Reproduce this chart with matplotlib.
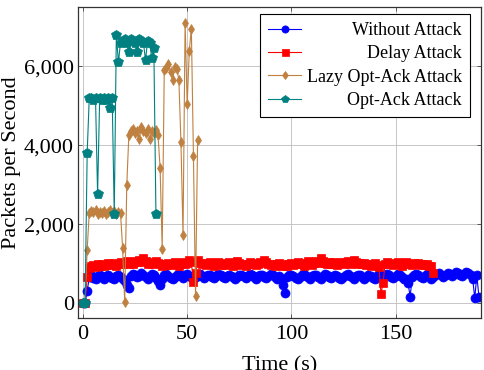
import numpy as np
import matplotlib
matplotlib.use("Agg")
import matplotlib.pyplot as plt
import matplotlib.ticker as ticker
from matplotlib.transforms import Bbox

plt.rcParams['font.family'] = ['Liberation Serif', 'DejaVu Serif']

# packets per second, one sample per second
without_attack = [
    0, 0, 300, 650, 700, 640, 610, 690, 720, 660,
    620, 680, 710, 650, 630, 600, 680, 720, 660, 610,
    560, 460, 370, 690, 740, 700, 650, 690, 750, 710,
    660, 620, 690, 730, 700, 640, 560, 460, 620, 700,
    730, 690, 640, 600, 660, 710, 730, 680, 640, 700,
    740, 690, 650, 610, 660, 700, 730, 680, 640, 690,
    720, 700, 660, 630, 690, 740, 710, 660, 630, 680,
    720, 690, 650, 610, 660, 700, 720, 680, 640, 690,
    730, 700, 650, 620, 680, 720, 700, 660, 630, 690,
    740, 700, 650, 620, 680, 600, 450, 250, 650, 700,
    720, 680, 640, 610, 670, 710, 730, 690, 650, 620,
    680, 720, 700, 650, 620, 690, 730, 700, 660, 630,
    690, 720, 680, 640, 610, 670, 710, 730, 690, 650,
    620, 680, 720, 700, 650, 610, 670, 710, 690, 640,
    610, 680, 730, 700, 660, 690, 740, 720, 670, 640,
    690, 730, 700, 650, 620, 600, 500, 160, 660, 710,
    740, 700, 660, 630, 690, 730, 700, 600, 650, 700,
    730, 760, 710, 670, 720, 760, 730, 690, 740, 790,
    760, 720, 680, 730, 780, 750, 700, 620, 120, 700,
    160,
]

delay_attack = [
    0, 0, 670, 880, 950, 960, 920, 980, 950, 1000,
    930, 970, 1010, 960, 990, 1020, 950, 1000, 1040, 980,
    1010, 1060, 1000, 1040, 990, 1070, 1030, 1080, 1050, 1130,
    1060, 1000, 1040, 990, 1020, 1070, 1010, 980, 950, 1000,
    970, 1010, 960, 1000, 1040, 990, 950, 1000, 1030, 980,
    1010, 1090, 1040, 520, 750, 1100, 1020, 980, 1010, 960,
    1000, 1040, 990, 950, 1000, 1030, 970, 1010, 960, 1000,
    1040, 980, 950, 1000, 1060, 1010, 970, 1000, 950, 990,
    1030, 980, 1010, 960, 1000, 1050, 1010, 1100, 1040, 990,
    960, 1000, 950, 980, 1020, 960, 940, 990, 950, 980,
    1010, 960, 990, 1030, 980, 1000, 950, 1010, 1060, 1000,
    970, 1020, 1060, 1010, 1150, 1070, 1010, 980, 1030, 990,
    1040, 1000, 960, 1010, 1050, 990, 1030, 1060, 1000, 1040,
    1100, 1030, 990, 1020, 980, 1010, 960, 1000, 940, 980,
    1010, 960, 920, 230, 510, 990, 1030, 980, 1010, 960,
    1000, 1040, 990, 950, 1010, 1030, 980, 1000, 960, 1010,
    990, 1020, 970, 1000, 960, 990, 940, 950, 750,
]

lazy_optack = [
    0, 0, 1350, 2280, 2330, 2300, 2350, 2250, 2300, 2270,
    2330, 2250, 2300, 2350, 2280, 2320, 2260, 2300, 2280, 1400,
    30, 2980, 4250, 4350, 4400, 4300, 4350, 4150, 4450, 4350,
    4300, 4400, 4150, 4350, 4300, 4380, 4250, 3430, 1380, 5900,
    5950, 6050, 5860, 5660, 5985, 5940, 5660, 4080, 1720, 7100,
    5030, 6390, 6950, 3720, 185, 4130,
]

optack = [
    0, 0, 3800, 5200, 5200, 5150, 5200, 2750, 5200, 5150,
    5200, 5150, 5200, 4950, 5200, 2250, 6800, 6100, 6600, 6650,
    6700, 6600, 6350, 6700, 6650, 6600, 6350, 6700, 6650, 6600,
    6150, 6650, 6600, 6200, 6450, 2250,
]

series = [without_attack, delay_attack, lazy_optack, optack]
names = ["Without Attack", "Delay Attack", "Lazy Opt-Ack Attack", "Opt-Ack Attack"]
colors = ["#0000ff", "#ff0000", "#bf8040", "#008080"]
markers = ["o", "s", "d", "p"]
marker_sizes = [6.5, 6.3, 5.5, 7.0]

x_ticks = [0, 50, 100, 150]
y_ticks = [0, 2000, 4000, 6000]


def right_align_legend(leg, fig):
    # pgfplots style legend: handles left, texts flush right
    r = fig.canvas.get_renderer()
    areas = []
    for col in leg._legend_handle_box.get_children():
        for row in col.get_children():
            areas.append(row.get_children()[1])
    w = max(a.get_bbox(r).width for a in areas)
    for a in areas:
        a._text.set_ha('right')
        orig = a.get_bbox

        def fixed(renderer, orig=orig):
            b = orig(renderer)
            return Bbox.from_bounds(-w, b.y0, w, b.height)
        a.get_bbox = fixed


fig = plt.figure(figsize=(4.84, 3.70), dpi=100)
ax = fig.add_axes([78 / 484, 1 - 318 / 370, 403 / 484, 311 / 370])

for vals, name, c, m, ms in zip(series, names, colors, markers, marker_sizes):
    t = np.arange(len(vals))
    ax.plot(t, vals, color=c, marker=m, markersize=ms, linewidth=0.8,
            markeredgecolor=c, markeredgewidth=0.5, label=name)

ax.set_xlim(-2.4, 191)
ax.set_ylim(-380, 7500)
ax.set_xticks(x_ticks)
ax.set_yticks(y_ticks)
ax.yaxis.set_major_formatter(ticker.FuncFormatter(lambda v, p: '{:,.0f}'.format(v)))
ax.grid(True, color='#bdbdbd', linewidth=0.6)
ax.set_axisbelow(True)
ax.tick_params(axis='both', direction='in', length=3, width=0.6, labelsize=16,
               top=True, right=True, color='#444444')
ax.tick_params(axis='x', pad=5)
ax.tick_params(axis='y', pad=3)
for s in ax.spines.values():
    s.set_color('#333333')
    s.set_linewidth(0.9)

ax.set_xlabel("Time (s)", fontsize=16, labelpad=9)
ax.set_ylabel("Packets per Second", fontsize=16, labelpad=2)

leg = ax.legend(loc='upper right', bbox_to_anchor=(392 / 403, 304 / 311),
                borderaxespad=0, fontsize=13, frameon=True, fancybox=False,
                framealpha=1, edgecolor='black', handlelength=1.85,
                handletextpad=0.3, borderpad=0.45, labelspacing=0.35,
                markerscale=0.8, numpoints=1)
leg.get_frame().set_linewidth(0.8)
right_align_legend(leg, fig)

fig.savefig("out.png", dpi=100)
